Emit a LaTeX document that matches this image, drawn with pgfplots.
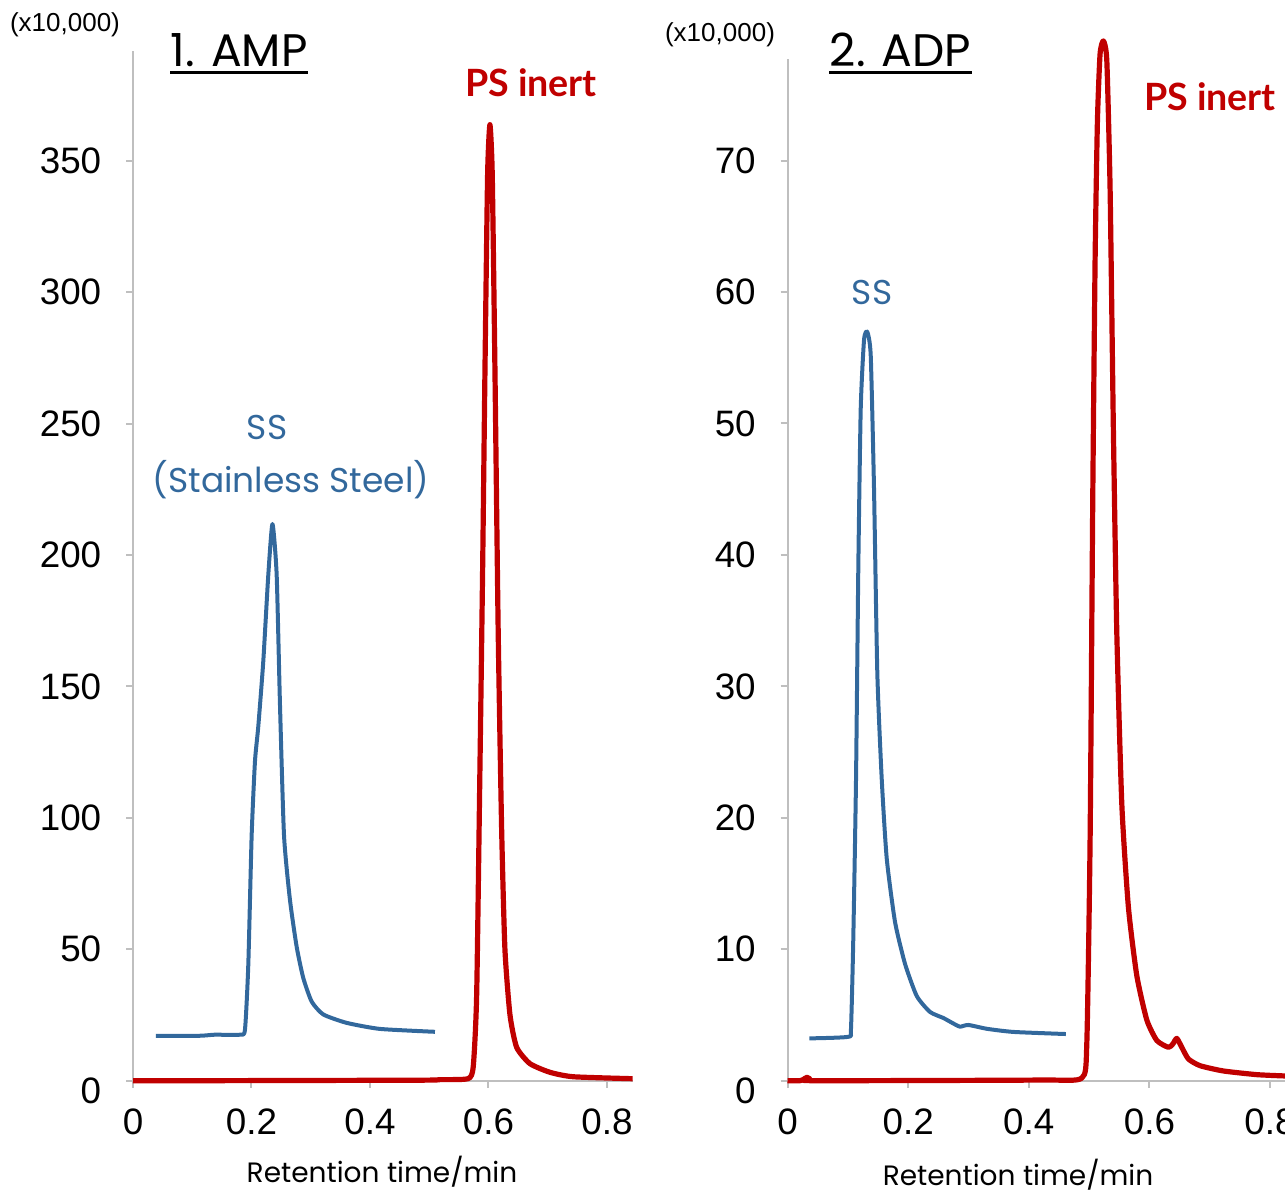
\documentclass[border=0pt]{standalone}
\usepackage{fontspec}
\setmainfont{Liberation Sans}
\newfontfamily\geo{Poppins}
\newfontfamily\lato{Lato}
\usepackage{pgfplots}
\pgfplotsset{compat=1.18}
\definecolor{ssblue}{RGB}{50,104,156}
\definecolor{psred}{RGB}{192,0,0}
\definecolor{axgray}{RGB}{191,191,191}

\pgfplotsset{chrom/.style={
  scale only axis, anchor=south west, clip=false,
  axis lines=left, axis line style={-, axgray, line width=0.5pt},
  tick style={axgray, line width=0.5pt}, tick align=outside,
  major tick length=1.75pt,
  xmin=0, ymin=0,
  xtick={0,0.2,0.4,0.6,0.8},
  xticklabels={0,0.2,0.4,0.6,0.8},
  /pgf/number format/assume math mode=true,
  tick label style={font=\fontsize{9.2}{11}\selectfont, black},
  xticklabel style={anchor=north, inner sep=0pt, yshift=-5pt},
  yticklabel style={anchor=east, inner sep=0pt, xshift=-6pt},
  extra y ticks={0},
  extra y tick style={yticklabel style={yshift=-2.5pt}},
}}

\begin{document}
\begin{tikzpicture}
% 1. AMP
\begin{axis}[chrom, at={(33.25pt,27.075pt)}, width=125pt, height=257.4pt,
  xmax=0.844, ymax=391.7, ytick={50,100,...,350}]
\addplot[ssblue, line width=1.0pt, smooth, tension=0.35, line join=round] coordinates {
(0.0388,17.1) (0.113,17.1) (0.138,17.5) (0.1806,17.5) (0.189,19.4)
(0.1946,44.0) (0.2003,93.4) (0.2059,121.5) (0.2115,134.8) (0.2199,159.5)
(0.2284,192.5) (0.2354,211.8) (0.2425,192.5) (0.2481,143.1) (0.2549,93.4)
(0.2650,68.7) (0.2763,50.9) (0.2874,39.1) (0.3016,30.1) (0.3212,25.2)
(0.3607,22.0) (0.4169,19.7) (0.5097,18.6)};
\addplot[psred, line width=1.3pt, smooth, tension=0.35, line join=round] coordinates {
(0,0) (0.113,0) (0.4844,0.2) (0.518,0.4) (0.5654,0.76) (0.5743,5.3)
(0.5801,32.6) (0.5857,120) (0.5902,195.1) (0.5941,269.9) (0.5986,344.9)
(0.6025,363.7) (0.6064,344.9) (0.6110,269.9) (0.6165,170.1) (0.6223,95.3)
(0.6278,50.1) (0.6363,25.1) (0.6476,12.7) (0.6700,6.5) (0.7038,3.2)
(0.7431,1.5) (0.8434,0.76)};
\end{axis}
% 2. ADP
\begin{axis}[chrom, at={(196.875pt,27.075pt)}, width=124.4pt, height=255.35pt,
  xmax=0.825, ymax=77.7, ytick={10,20,...,70}]
\addplot[ssblue, line width=1.0pt, smooth, tension=0.35, line join=round] coordinates {
(0.0362,3.22) (0.1008,3.34) (0.1053,4.02) (0.1091,10.87) (0.1136,22.96)
(0.1174,39.05) (0.1214,51.13) (0.1269,56.36) (0.1323,56.97) (0.1380,55.15)
(0.1434,45.10) (0.1489,31.02) (0.1562,22.96) (0.1645,16.91) (0.1783,12.07)
(0.1949,8.88) (0.2143,6.44) (0.2363,5.23) (0.2584,4.77) (0.2750,4.35)
(0.2861,4.11) (0.2998,4.24) (0.3304,3.95) (0.3745,3.71) (0.4614,3.55)};
\addplot[psred, line width=1.3pt, smooth, tension=0.35, line join=round] coordinates {
(0,0) (0.0207,0) (0.0274,0.13) (0.0323,0.26) (0.0373,0.13) (0.0439,0)
(0.4187,0.05) (0.4879,0.2) (0.4962,2.79) (0.5017,18.39) (0.5061,44.34)
(0.5100,62.52) (0.5138,72.94) (0.5182,78.1) (0.5237,79.1) (0.5294,77.6)
(0.5349,67.7) (0.5403,49.5) (0.5460,34.0) (0.5543,21.0) (0.5652,13.2)
(0.5791,8.0) (0.5957,4.62) (0.6123,3.06) (0.6315,2.54) (0.6388,2.79)
(0.6454,3.22) (0.6537,2.54) (0.6647,1.65) (0.6841,1.14) (0.7227,0.74)
(0.7781,0.46) (0.8250,0.36)};
\end{axis}
% texts
\begin{scope}[every node/.style={inner sep=0pt}]
\node at (16.25pt,291pt) {\fontsize{6.5}{7}\selectfont(x10,000)};
\node at (180pt,288.5pt) {\fontsize{6.5}{7}\selectfont(x10,000)};
\node[anchor=base west] (t1) at (42.5pt,280.5pt) {\geo\fontsize{11.4}{13}\selectfont 1. AMP};
\draw[line width=0.8pt] ([yshift=-1.3pt]t1.base west) -- ([yshift=-1.3pt]t1.base east);
\node[anchor=base west] (t2) at (207.25pt,280.5pt) {\geo\fontsize{11.4}{13}\selectfont 2. ADP};
\draw[line width=0.8pt] ([yshift=-1.3pt]t2.base west) -- ([yshift=-1.3pt]t2.base east);
\node[psred] at (132.75pt,276.5pt) {\lato\bfseries\fontsize{9.4}{11}\selectfont PS inert};
\node[psred] at (302.5pt,273pt) {\lato\bfseries\fontsize{9.4}{11}\selectfont PS inert};
\node[ssblue] at (66.75pt,190.5pt) {\geo\fontsize{8.6}{10}\selectfont SS};
\node[ssblue] at (72.75pt,177.25pt) {\geo\fontsize{8.6}{10}\selectfont (Stainless Steel)};
\node[ssblue] at (218pt,224.25pt) {\geo\fontsize{8.6}{10}\selectfont SS};
\node at (95.5pt,4.3pt) {\geo\fontsize{7.0}{9}\selectfont Retention time/min};
\node at (254.5pt,3.7pt) {\geo\fontsize{7.0}{9}\selectfont Retention time/min};
\end{scope}
\pgfresetboundingbox
\useasboundingbox (0,0) rectangle (321.25pt,297.25pt);
\end{tikzpicture}
\end{document}
